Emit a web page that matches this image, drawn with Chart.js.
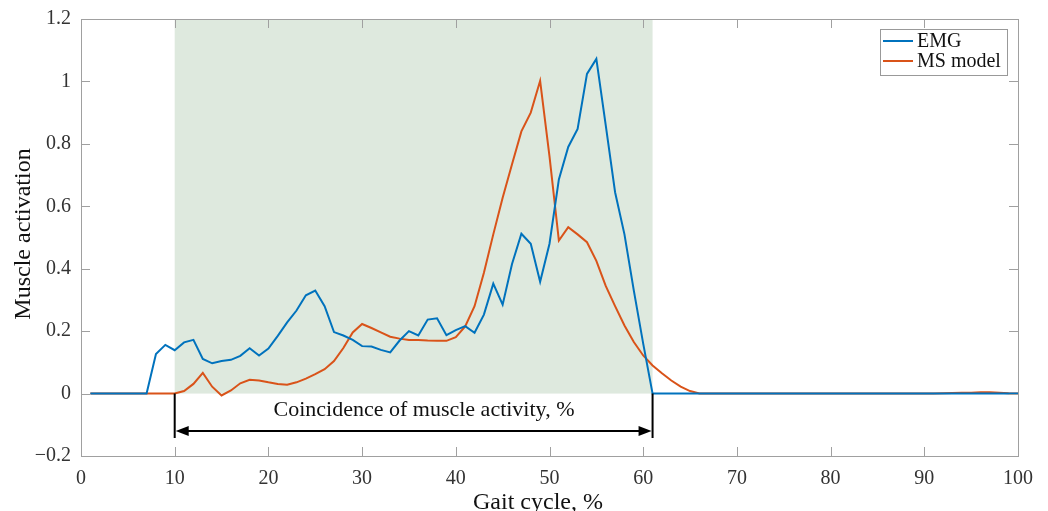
<!DOCTYPE html>
<html>
<head>
<meta charset="utf-8">
<script src="https://cdn.jsdelivr.net/npm/chart.js@4"></script>
<style>
  html, body { margin: 0; padding: 0; background: #fff; }
  #wrap { width: 1048px; height: 511px; }
</style>
</head>
<body>
<div id="wrap"><canvas id="chart" width="1048" height="511"></canvas></div>
<script>
// ---------------- DATA ----------------
const gait = [];
for (let i = 1; i <= 100; i++) gait.push(i);

// EMG, values at gait 1..100
const emg = [
  0, 0, 0, 0, 0, 0, 0, 0.127, 0.156, 0.139,
  0.164, 0.172, 0.111, 0.097, 0.104, 0.108, 0.121, 0.145, 0.122, 0.144,
  0.185, 0.228, 0.266, 0.315, 0.33, 0.28, 0.197, 0.186, 0.172, 0.152,
  0.151, 0.14, 0.132, 0.17, 0.2, 0.186, 0.237, 0.241, 0.187, 0.203,
  0.216, 0.195, 0.253, 0.352, 0.285, 0.415, 0.512, 0.48, 0.358, 0.48,
  0.686, 0.79, 0.848, 1.024, 1.072, 0.86, 0.645, 0.51, 0.33, 0.16,
  0, 0, 0, 0, 0, 0, 0, 0, 0, 0,
  0, 0, 0, 0, 0, 0, 0, 0, 0, 0,
  0, 0, 0, 0, 0, 0, 0, 0, 0, 0,
  0, 0, 0, 0, 0, 0, 0, 0, 0, 0
];

// musculoskeletal model
const msModel = [
  0, 0, 0, 0, 0, 0, 0, 0, 0, 0,
  0.008, 0.031, 0.066, 0.022, -0.006, 0.01, 0.033, 0.044, 0.042, 0.036,
  0.031, 0.028, 0.036, 0.048, 0.062, 0.078, 0.104, 0.146, 0.196, 0.223,
  0.21, 0.196, 0.182, 0.176, 0.172, 0.172, 0.17, 0.169, 0.169, 0.181,
  0.215, 0.28, 0.387, 0.51, 0.627, 0.735, 0.84, 0.9, 1.002, 0.76,
  0.49, 0.533, 0.51, 0.485, 0.425, 0.345, 0.28, 0.218, 0.165, 0.122,
  0.09, 0.065, 0.042, 0.022, 0.008, 0, 0, 0, 0, 0,
  0, 0, 0, 0, 0, 0, 0, 0, 0, 0,
  0, 0, 0, 0, 0, 0, 0, 0, 0, 0,
  0, 0.001, 0.002, 0.003, 0.003, 0.004, 0.004, 0.003, 0.001, 0
];

const xTicks = [0, 10, 20, 30, 40, 50, 60, 70, 80, 90, 100];
const yTicks = [-0.2, 0, 0.2, 0.4, 0.6, 0.8, 1, 1.2];
const activeRange = [10, 61];
const spanLabel = "Coincidence of muscle activity, %";
const xTitle = "Gait cycle, %";
const yTitle = "Muscle activation";

const BLUE = "#0072BD";
const ORANGE = "#D95319";
const SERIF = "'Liberation Serif', 'DejaVu Serif', serif";

// ---------------- PLUGIN ----------------
const decor = {
  id: "decor",
  beforeDatasetsDraw(chart) {
    const { ctx, scales: { x, y } } = chart;
    // shaded coincidence band
    ctx.save();
    ctx.fillStyle = "#dee9de";
    const x0 = x.getPixelForValue(activeRange[0]);
    const x1 = x.getPixelForValue(activeRange[1]);
    ctx.fillRect(x0, y.getPixelForValue(1.2), x1 - x0, y.getPixelForValue(0) - y.getPixelForValue(1.2));
    ctx.restore();
  },
  afterDraw(chart) {
    const { ctx, chartArea: a, scales: { x, y } } = chart;
    ctx.save();

    // box + inward ticks
    ctx.strokeStyle = "#a0a0a0";
    ctx.lineWidth = 1;
    ctx.strokeRect(Math.round(a.left) + 0.5, Math.round(a.top) + 0.5,
      Math.round(a.right - a.left), Math.round(a.bottom - a.top));
    ctx.beginPath();
    xTicks.forEach(v => {
      const px = Math.round(x.getPixelForValue(v)) + 0.5;
      ctx.moveTo(px, a.bottom); ctx.lineTo(px, a.bottom - 9);
      ctx.moveTo(px, a.top); ctx.lineTo(px, a.top + 9);
    });
    yTicks.forEach(v => {
      const py = Math.round(y.getPixelForValue(v)) + 0.5;
      ctx.moveTo(a.left, py); ctx.lineTo(a.left + 9, py);
      ctx.moveTo(a.right, py); ctx.lineTo(a.right - 9, py);
    });
    ctx.stroke();

    // axis titles
    ctx.fillStyle = "#111";
    ctx.font = "24px " + SERIF;
    ctx.textAlign = "center";
    ctx.textBaseline = "middle";
    ctx.fillText(xTitle, 538, 503);
    ctx.save();
    ctx.translate(24, 234);
    ctx.rotate(-Math.PI / 2);
    ctx.fillText(yTitle, 0, 0);
    ctx.restore();

    // span markers and double arrow
    const xa = x.getPixelForValue(activeRange[0]);
    const xb = x.getPixelForValue(activeRange[1]);
    const yTop = y.getPixelForValue(0);
    const yBot = y.getPixelForValue(-0.142);
    const yArr = y.getPixelForValue(-0.12);
    ctx.strokeStyle = "#000";
    ctx.fillStyle = "#000";
    ctx.lineWidth = 2;
    ctx.beginPath();
    ctx.moveTo(xa, yTop); ctx.lineTo(xa, yBot);
    ctx.moveTo(xb, yTop); ctx.lineTo(xb, yBot);
    ctx.moveTo(xa + 10, yArr); ctx.lineTo(xb - 10, yArr);
    ctx.stroke();
    ctx.beginPath();
    ctx.moveTo(xa + 1, yArr); ctx.lineTo(xa + 14, yArr - 5); ctx.lineTo(xa + 14, yArr + 5); ctx.closePath();
    ctx.moveTo(xb - 1, yArr); ctx.lineTo(xb - 14, yArr - 5); ctx.lineTo(xb - 14, yArr + 5); ctx.closePath();
    ctx.fill();

    ctx.fillStyle = "#111";
    ctx.font = "22px " + SERIF;
    ctx.fillText(spanLabel, 424, y.getPixelForValue(-0.053));

    // legend
    ctx.fillStyle = "#fff";
    ctx.fillRect(880, 29, 127, 46);
    ctx.strokeStyle = "#999";
    ctx.lineWidth = 1;
    ctx.strokeRect(880.5, 29.5, 127, 46);
    ctx.font = "20px " + SERIF;
    ctx.textAlign = "left";
    chart.data.datasets.forEach((ds, i) => {
      const ly = 41 + i * 20;
      ctx.strokeStyle = ds.borderColor;
      ctx.lineWidth = 2;
      ctx.beginPath();
      ctx.moveTo(883, ly); ctx.lineTo(913, ly);
      ctx.stroke();
      ctx.fillStyle = "#111";
      ctx.fillText(ds.label, 917, ly + 1);
    });
    ctx.restore();
  }
};

// ---------------- CHART ----------------
const ctx = document.getElementById("chart").getContext("2d");
new Chart(ctx, {
  type: "line",
  data: {
    labels: gait,
    datasets: [
      { label: "EMG", data: emg, borderColor: BLUE, borderWidth: 2, pointRadius: 0, tension: 0 },
      { label: "MS model", data: msModel, borderColor: ORANGE, borderWidth: 2, pointRadius: 0, tension: 0 }
    ]
  },
  options: {
    responsive: false,
    animation: false,
    layout: { padding: { left: 0, top: 19, right: 30, bottom: 0 } },
    plugins: { legend: { display: false }, tooltip: { enabled: false } },
    scales: {
      x: {
        type: "linear",
        min: 0, max: 100,
        afterFit: s => { s.height = 55; },
        afterBuildTicks: s => { s.ticks = xTicks.map(v => ({ value: v })); },
        grid: { display: false },
        border: { display: false },
        ticks: { color: "#333", font: { family: SERIF, size: 20 }, padding: 3, maxRotation: 0 }
      },
      y: {
        min: -0.2, max: 1.2,
        afterFit: s => { s.width = 81; },
        afterBuildTicks: s => { s.ticks = yTicks.map(v => ({ value: v })); },
        grid: { display: false },
        border: { display: false },
        ticks: {
          color: "#333", font: { family: SERIF, size: 20 }, padding: 2,
          callback: v => (v < 0 ? "\u2212" + Math.abs(v) : String(Math.round(v * 10) / 10))
        }
      }
    }
  },
  plugins: [decor]
});
</script>
</body>
</html>
